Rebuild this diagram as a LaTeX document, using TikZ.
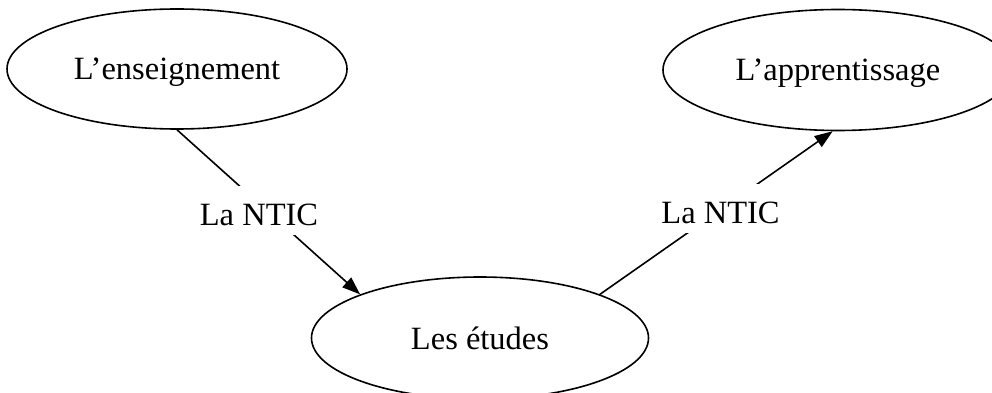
\documentclass[tikz,border=0pt]{standalone}
\usepackage{fontspec}
\setmainfont{Liberation Serif}
\usetikzlibrary{arrows.meta,shapes.geometric}
\begin{document}
\begin{tikzpicture}[x=1pt,y=-1pt,
  ell/.style={draw, ellipse, line width=1.6pt, inner sep=0pt,
    text height=22pt, text depth=0pt, font=\fontsize{32.5}{38}\selectfont},
  lab/.style={fill=white, inner xsep=2pt, inner ysep=0pt,
    text height=39pt, text depth=10pt, anchor=base, font=\fontsize{32.5}{38}\selectfont},
  conn/.style={line width=1.6pt, -{Triangle[length=18pt,width=13pt]}}]
\useasboundingbox (0,0) rectangle (992,393);
\clip (0,0) rectangle (992,393);
\node[ell, minimum width=340pt, minimum height=120pt] (ens) at (177,69) {L’enseignement};
\node[ell, minimum width=350pt, minimum height=121pt] (app) at (838,70) {L’apprentissage};
\node[ell, minimum width=337pt, minimum height=122pt] (etu) at (480,338) {Les études};
\draw[conn] (ens.south) -- (etu.160);
\draw[conn] (etu.20) -- (app.265);
\node[lab] (l1) at (259,225) {La NTIC};
\node[lab] (l2) at (720.5,223) {La NTIC};
\end{tikzpicture}
\end{document}
